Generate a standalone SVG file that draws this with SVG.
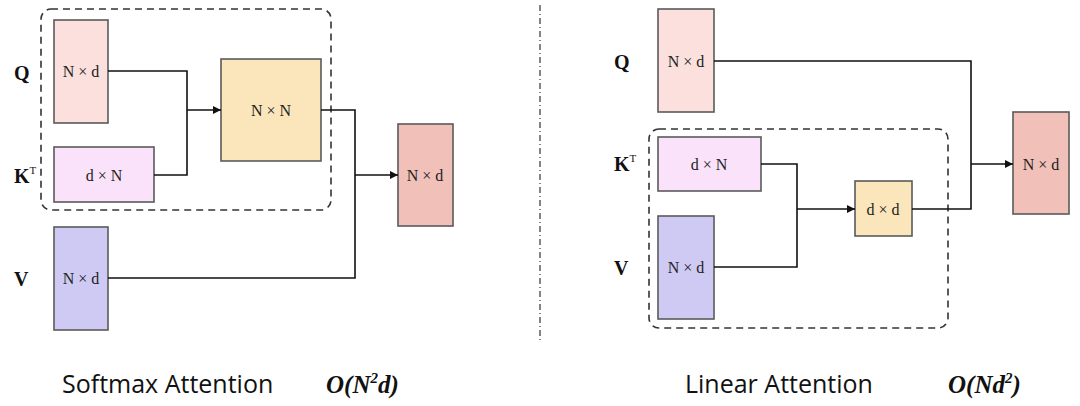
<svg xmlns="http://www.w3.org/2000/svg" width="1080" height="406" viewBox="0 0 1080 406">
<style>
.b{stroke:#5a5a5a;stroke-width:1.6}
.t{font-family:"Liberation Serif",serif;font-size:16px;fill:#222;text-anchor:middle;dominant-baseline:central}
.l{font-family:"Liberation Serif",serif;font-size:20px;font-weight:bold;fill:#111}
.c{fill:none;stroke:#111;stroke-width:1.6}
.d{fill:none;stroke:#333;stroke-width:1.6;stroke-dasharray:7 5}
.h{font-family:"Open Sans",sans-serif;font-size:25px;fill:#111}
.o{font-family:"Liberation Serif",serif;font-size:25px;font-style:italic;font-weight:bold;fill:#111}
</style>
<defs><marker id="a" viewBox="0 0 10 10" refX="10" refY="5" markerWidth="5" markerHeight="5" orient="auto"><path d="M0,0L10,5L0,10z" fill="#111"/></marker></defs>
<rect class="d" x="41" y="9" width="290" height="201" rx="10"/>
<rect class="d" x="649" y="129" width="299" height="199" rx="10"/>
<line x1="540" y1="5" x2="540" y2="342" stroke="#333" stroke-width="1.2" stroke-dasharray="6 3 1 3"/>
<text class="l" x="14" y="80">Q</text>
<text class="l" x="14" y="183">K<tspan font-size="11" dy="-9" font-weight="normal">T</tspan></text>
<text class="l" x="14" y="286">V</text>
<text class="l" x="614" y="69">Q</text>
<text class="l" x="614" y="171">K<tspan font-size="11" dy="-9" font-weight="normal">T</tspan></text>
<text class="l" x="614" y="275">V</text>
<g id="sq"><rect class="b" x="54" y="20" width="54" height="103" fill="#fbe0dd"/><text class="t" x="81" y="71">N × d</text></g>
<g id="sk"><rect class="b" x="54" y="147" width="100" height="55" fill="#fbe2fb"/><text class="t" x="104" y="175">d × N</text></g>
<g id="sv"><rect class="b" x="54" y="227" width="54" height="103" fill="#cfcaf4"/><text class="t" x="81" y="278">N × d</text></g>
<g id="snn"><rect class="b" x="221" y="59" width="100" height="102" fill="#fbe6bb"/><text class="t" x="271" y="110">N × N</text></g>
<g id="so"><rect class="b" x="398" y="124" width="55" height="102" fill="#f1c0b9"/><text class="t" x="425" y="175">N × d</text></g>
<g id="lq"><rect class="b" x="658" y="9" width="56" height="103" fill="#fbe0dd"/><text class="t" x="686" y="61">N × d</text></g>
<g id="lk"><rect class="b" x="658" y="137" width="103" height="54" fill="#fbe2fb"/><text class="t" x="709" y="164">d × N</text></g>
<g id="lv"><rect class="b" x="658" y="216" width="56" height="103" fill="#cfcaf4"/><text class="t" x="686" y="267">N × d</text></g>
<g id="ldd"><rect class="b" x="855" y="181" width="57" height="55" fill="#fbe6bb"/><text class="t" x="883" y="209">d × d</text></g>
<g id="lo"><rect class="b" x="1013" y="112" width="56" height="102" fill="#f1c0b9"/><text class="t" x="1041" y="164">N × d</text></g>
<g id="connectors">
<polyline class="c" points="108,71 187,71 187,175 154,175"/>
<line class="c" x1="187" y1="110" x2="221" y2="110" marker-end="url(#a)"/>
<polyline class="c" points="321,110 355,110 355,278 108,278"/>
<line class="c" x1="355" y1="175" x2="398" y2="175" marker-end="url(#a)"/>
<polyline class="c" points="714,61 971,61 971,209 912,209"/>
<polyline class="c" points="761,164 797,164 797,267 714,267"/>
<line class="c" x1="797" y1="209" x2="855" y2="209" marker-end="url(#a)"/>
<line class="c" x1="971" y1="164" x2="1013" y2="164" marker-end="url(#a)"/>
</g>
<text class="h" x="62" y="393">Softmax Attention</text>
<text class="o" x="326" y="393">O(N<tspan font-size="15" dy="-10">2</tspan><tspan dy="10">d)</tspan></text>
<text class="h" x="685" y="393">Linear Attention</text>
<text class="o" x="948" y="393">O(Nd<tspan font-size="15" dy="-10">2</tspan><tspan dy="10">)</tspan></text>
</svg>
